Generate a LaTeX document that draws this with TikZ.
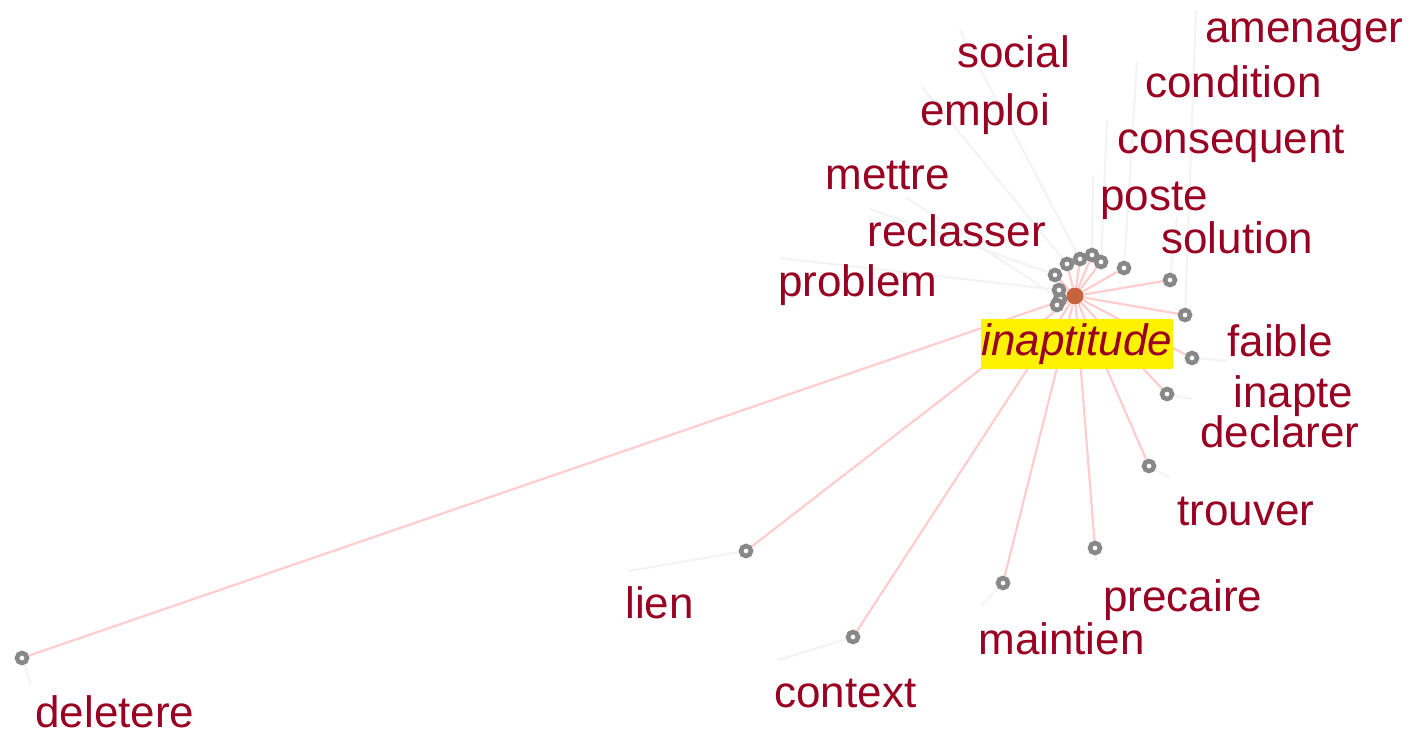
\documentclass[tikz,border=0pt]{standalone}
\usepackage{fontspec}
\setmainfont{Liberation Sans}
\usetikzlibrary{backgrounds}
\definecolor{wordred}{RGB}{153,0,34}
\definecolor{edgepink}{RGB}{255,205,205}
\definecolor{faint}{RGB}{243,243,243}
\definecolor{ringgray}{RGB}{136,136,136}
\definecolor{hubbrown}{RGB}{200,100,60}
\definecolor{hlyellow}{RGB}{255,242,0}
\begin{document}
\begin{tikzpicture}[x=0.5pt,y=-0.5pt,
  word/.style={anchor=base west, inner sep=0pt, text=wordred, font=\fontsize{22}{26}\selectfont},
  ring/.style={circle, draw=ringgray, line width=2.3pt, fill=white, minimum size=5pt, inner sep=0pt},
  hub/.style={circle, fill=hubbrown, minimum size=8.5pt, inner sep=0pt},
  spoke/.style={draw=edgepink, line width=1.1pt},
  tether/.style={draw=faint, line width=1pt},
  focus/.style={fill=hlyellow, text=wordred, inner sep=0pt, minimum width=96pt, minimum height=25pt, font=\fontsize{22}{26}\selectfont\itshape}]
\useasboundingbox (0,0) rectangle (1412,732);

% hub
\node[hub] (hub) at (1075,296) {};

% rings
\node[ring] (r-social) at (1080,259) {};
\node[ring] (r-emploi) at (1067,264) {};
\node[ring] (r-mettre) at (1060,299) {};
\node[ring] (r-reclasser) at (1055,275) {};
\node[ring] (r-problem) at (1059,290) {};
\node[ring] (r-poste) at (1092,255) {};
\node[ring] (r-consequent) at (1101,262) {};
\node[ring] (r-condition) at (1124,268) {};
\node[ring] (r-amenager) at (1185,315) {};
\node[ring] (r-solution) at (1170,280) {};
\node[ring] (r-faible) at (1192,358) {};
\node[ring] (r-inapte) at (1167,394) {};
\node[ring] (r-declarer) at (1057,305) {};
\node[ring] (r-trouver) at (1149,466) {};
\node[ring] (r-precaire) at (1095,548) {};
\node[ring] (r-maintien) at (1003,583) {};
\node[ring] (r-lien) at (746,551) {};
\node[ring] (r-context) at (853,637) {};
\node[ring] (r-deletere) at (22,658) {};

% focus word
\node[focus] (focus) at (1077,344) {inaptitude};

% labels
\node[word] (l-social) at (957,68) {social};
\node[word] (l-emploi) at (920,126) {emploi};
\node[word] (l-mettre) at (825,190) {mettre};
\node[word] (l-reclasser) at (867,247) {reclasser};
\node[word] (l-problem) at (778,297) {problem};
\node[word] (l-poste) at (1100,211) {poste};
\node[word] (l-consequent) at (1117,154) {consequent};
\node[word] (l-condition) at (1145,98) {condition};
\node[word] (l-amenager) at (1205,43) {amenager};
\node[word] (l-solution) at (1161,254) {solution};
\node[word] (l-faible) at (1227,357) {faible};
\node[word] (l-inapte) at (1233,408) {inapte};
\node[word] (l-declarer) at (1200,447) {declarer};
\node[word] (l-trouver) at (1177,525) {trouver};
\node[word] (l-precaire) at (1103,611) {precaire};
\node[word] (l-maintien) at (978,654) {maintien};
\node[word] (l-lien) at (625,618) {lien};
\node[word] (l-context) at (774,707) {context};
\node[word] (l-deletere) at (35,727) {deletere};

% tether ends
\coordinate (t-social) at (960,30);
\coordinate (t-emploi) at (922,87);
\coordinate (t-mettre) at (907,198);
\coordinate (t-reclasser) at (870,209);
\coordinate (t-problem) at (780,258);
\coordinate (t-poste) at (1093,177);
\coordinate (t-consequent) at (1107,120);
\coordinate (t-condition) at (1137,62);
\coordinate (t-amenager) at (1196,10);
\coordinate (t-solution) at (1177,217);
\coordinate (t-faible) at (1227,361);
\coordinate (t-inapte) at (1192,399);
\coordinate (t-trouver) at (1170,478);
\coordinate (t-precaire) at (1096,560);
\coordinate (t-maintien) at (981,606);
\coordinate (t-lien) at (628,571);
\coordinate (t-context) at (778,660);
\coordinate (t-deletere) at (31,684);

\begin{scope}[on background layer]
  \fill[white] (0,0) rectangle (1412,732);
  \foreach \w in {social,emploi,mettre,reclasser,problem,poste,consequent,condition,amenager,solution,faible,inapte,trouver,precaire,maintien,lien,context,deletere}
    \draw[tether] (r-\w) -- (t-\w);
  \foreach \w in {social,emploi,mettre,reclasser,problem,poste,consequent,condition,amenager,solution,faible,inapte,declarer,trouver,precaire,maintien,lien,context,deletere}
    \draw[spoke] (hub) -- (r-\w);
\end{scope}
\end{tikzpicture}
\end{document}
